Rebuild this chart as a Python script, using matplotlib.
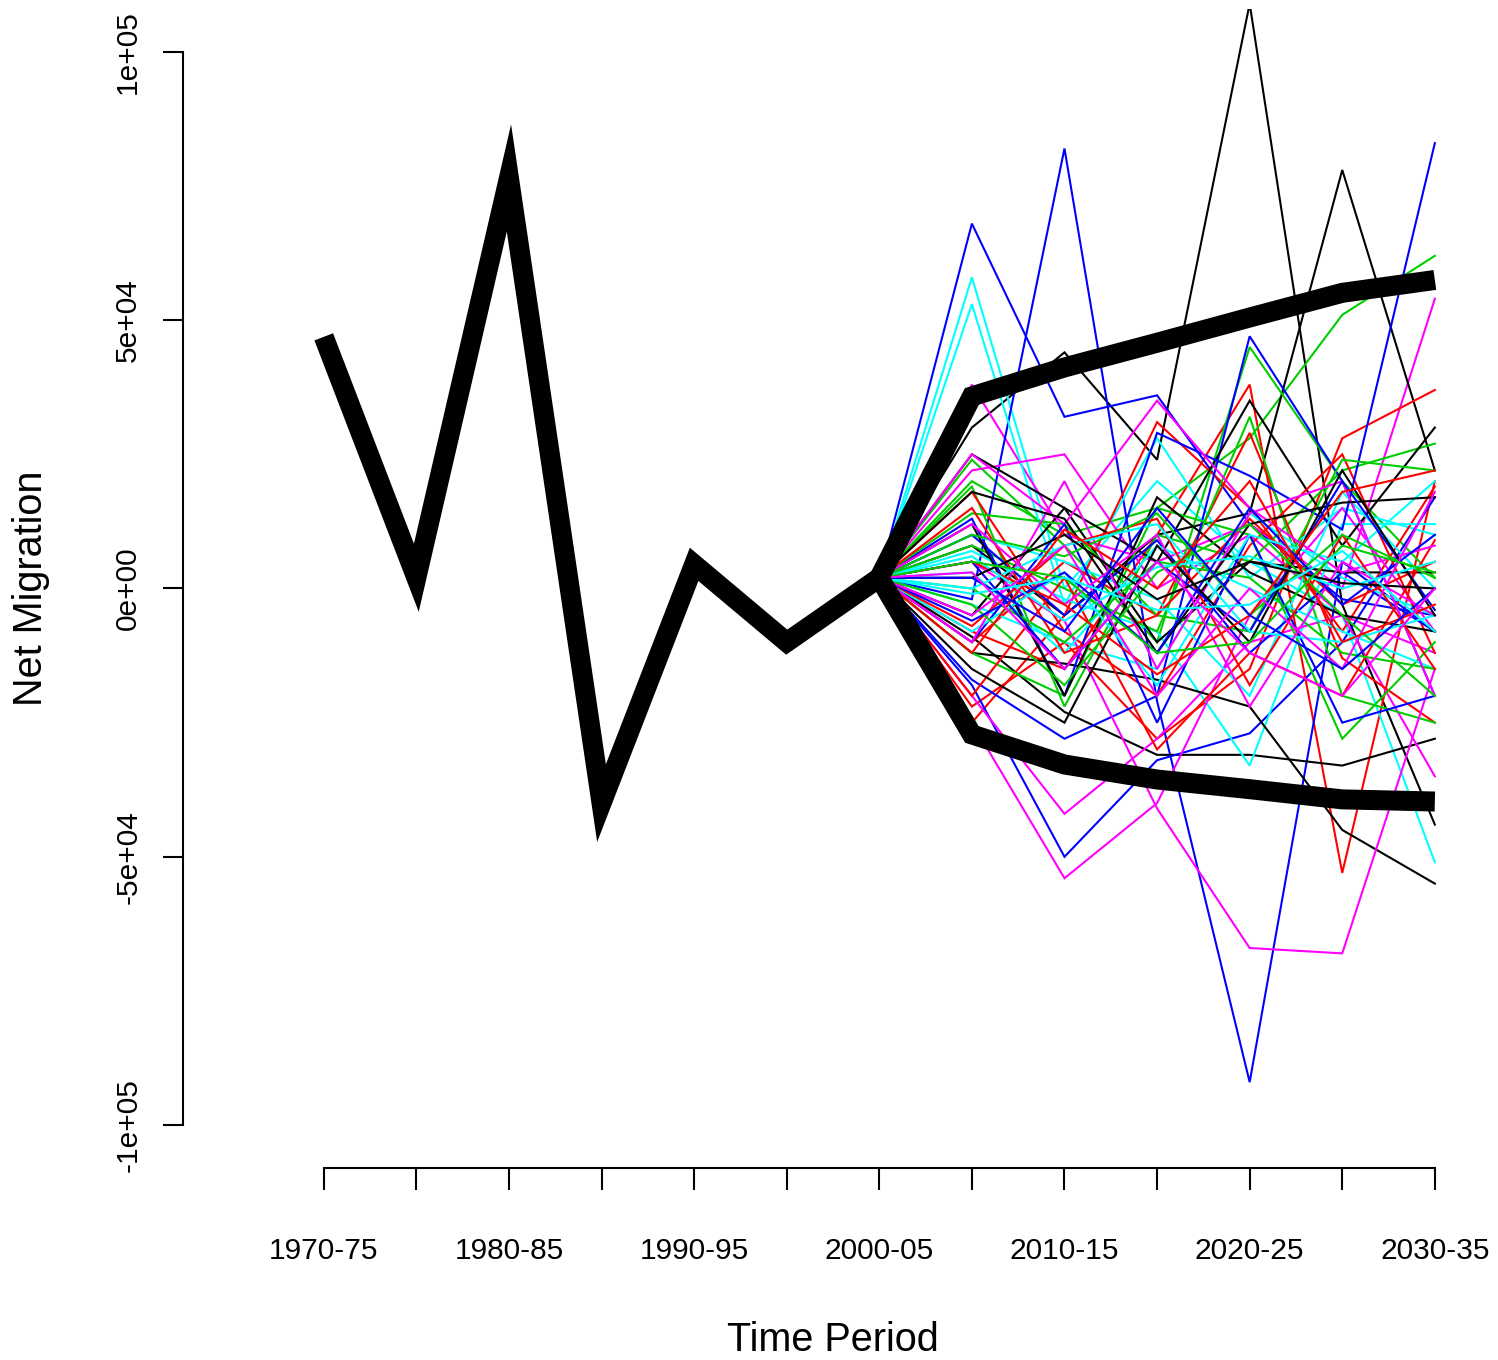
import matplotlib
matplotlib.use('Agg')
import matplotlib.pyplot as plt

plt.rcParams['font.family'] = ['Liberation Sans', 'DejaVu Sans']

periods = ['1970-75', '1975-80', '1980-85', '1985-90', '1990-95', '1995-00', '2000-05',
           '2005-10', '2010-15', '2015-20', '2020-25', '2025-30', '2030-35']
shown_labels = ['1970-75', '1980-85', '1990-95', '2000-05', '2010-15', '2020-25', '2030-35']

observed = [46900, 2000, 76500, -40000, 4500, -10000, 2000]
upper_bound = [2000, 35800, 41200, 45800, 50500, 55100, 57500]
lower_bound = [2000, -27200, -32800, -35600, -37400, -39300, -39700]

# simulated trajectories (thousands) for 2005-10 ... 2030-35, one list per colour
black_runs = [
    [30, 44, 24, 109, -3, -44],
    [8, -5, 10, 14, 78, 22],
    [-9, -23, -31, -31, -33, -28],
    [-12, -14, -17, -22, -45, -55],
    [25, 15, 5, 35, 8, 30],
    [-5, 15, -10, 5, 3, 3],
    [12, -20, 17, 3, -5, -8],
    [18, 13, -12, 12, 16, 17],
    [-15, -25, 8, -10, 22, -5],
    [2, 10, -2, 5, 1, 0],
]
red_runs = [
    [-8, -15, 10, 38, -53, 20],
    [-22, -10, -28, -15, 28, 37],
    [-25, -5, 31, 15, -8, 19],
    [-10, 5, -5, 29, -13, -25],
    [18, -8, -20, 8, 25, -12],
    [-20, 2, -30, -12, -20, 9],
    [15, -12, -5, 13, -3, 5],
    [-7, 8, 13, -18, 10, -15],
    [5, -3, -16, -5, 18, 22],
    [-12, 11, 0, 20, -10, -3],
]
green_runs = [
    [20, 10, 15, 28, 51, 62],
    [24, 8, -10, 45, 20, 2],
    [19, -22, 10, 5, 22, 27],
    [8, 0, -8, 32, -20, -25],
    [-12, -20, 15, 10, -28, -10],
    [14, 12, -5, -8, 24, 22],
    [0, -10, 5, 2, -12, -15],
    [10, 6, 14, -5, 10, 2],
    [-3, -18, 3, 12, -5, -20],
    [5, 2, -12, -10, 8, 3],
]
blue_runs = [
    [68, 32, 36, 12, -2, -5],
    [-2, 82, -21, -92, 5, -8],
    [-18, -50, -32, -27, -10, 17],
    [-17, -28, -20, 47, 20, -20],
    [13, -20, 29, 21, 11, 83],
    [10, -5, 9, -12, 3, -8],
    [-10, 12, -25, 10, -25, -20],
    [5, -15, 5, -8, 20, -4],
    [-6, 3, -12, 15, -3, 10],
    [2, -8, 15, -5, -15, 0],
]
cyan_runs = [
    [58, 0, 20, 5, -5, -51],
    [53, -3, 28, 2, 15, 10],
    [7, -2, -8, -33, 12, 12],
    [-3, -10, -15, 14, 2, -5],
    [10, 5, -2, -20, 18, 0],
    [3, -12, 8, 0, -8, -15],
    [-8, 3, -18, 10, 5, 20],
    [0, 8, 12, -8, -10, -5],
    [6, -6, 4, 6, 0, 5],
    [-1, 2, -4, -3, 7, -8],
]
magenta_runs = [
    [38, 10, 5, 12, 0, 54],
    [22, 25, 0, 10, -5, -12],
    [-20, -42, -28, -10, -5, -35],
    [-25, -54, -40, -5, 15, -8],
    [5, -6, -41, -67, -68, -15],
    [25, 12, 35, 15, 3, 8],
    [-10, 20, -15, 14, 20, -20],
    [12, -3, 10, -22, 5, -5],
    [-5, 8, -20, 0, -15, 18],
    [3, -15, 5, -12, -20, 0],
]

run_groups = [black_runs, red_runs, green_runs, blue_runs, cyan_runs, magenta_runs]
run_colors = ['black', '#FF0000', '#00CD00', '#0000FF', '#00FFFF', '#FF00FF']

W, H = 1498, 1360
fig = plt.figure(figsize=(W / 100, H / 100), dpi=100)
ax = fig.add_axes([183 / W, 1 - 1168 / H, (1483 - 183) / W, (1168 - 9) / H])

x_all = list(range(1, len(periods) + 1))
x_obs = x_all[:len(observed)]
x_proj = x_all[len(observed) - 1:]

for i in range(len(black_runs)):
    for grp, col in zip(run_groups, run_colors):
        vals = [observed[-1]] + [v * 1000 for v in grp[i]]
        ax.plot(x_proj, vals, color=col, lw=1.5, solid_joinstyle='miter', zorder=2)

thick = dict(color='black', lw=14.4, solid_joinstyle='miter', solid_capstyle='butt', zorder=3)
ax.plot(x_obs, observed, **thick)
ax.plot(x_proj, upper_bound, **thick)
ax.plot(x_proj, lower_bound, **thick)

ax.set_xlim(-0.52, 13.52)
ax.set_ylim(-108000, 108000)

for s in ['top', 'right']:
    ax.spines[s].set_visible(False)
ax.spines['left'].set_bounds(-100000, 100000)
ax.spines['bottom'].set_bounds(1, 13)
for s in ['left', 'bottom']:
    ax.spines[s].set_linewidth(1.5)

yt = [-100000, -50000, 0, 50000, 100000]
ax.set_yticks(yt)
ax.set_yticklabels(['-1e+05', '-5e+04', '0e+00', '5e+04', '1e+05'], rotation=90, va='center')
ax.set_xticks(x_all)
ax.set_xticklabels([p if p in shown_labels else '' for p in periods])

ax.tick_params(axis='y', length=14.4, width=1.5, labelsize=21.5, pad=15)
ax.tick_params(axis='x', length=16, width=1.5, labelsize=21.5, pad=34)

ax.set_xlabel('Time Period', fontsize=28.5, labelpad=40)
ax.set_ylabel('Net Migration', fontsize=28.5, labelpad=46)

fig.savefig('out.png', dpi=100)
